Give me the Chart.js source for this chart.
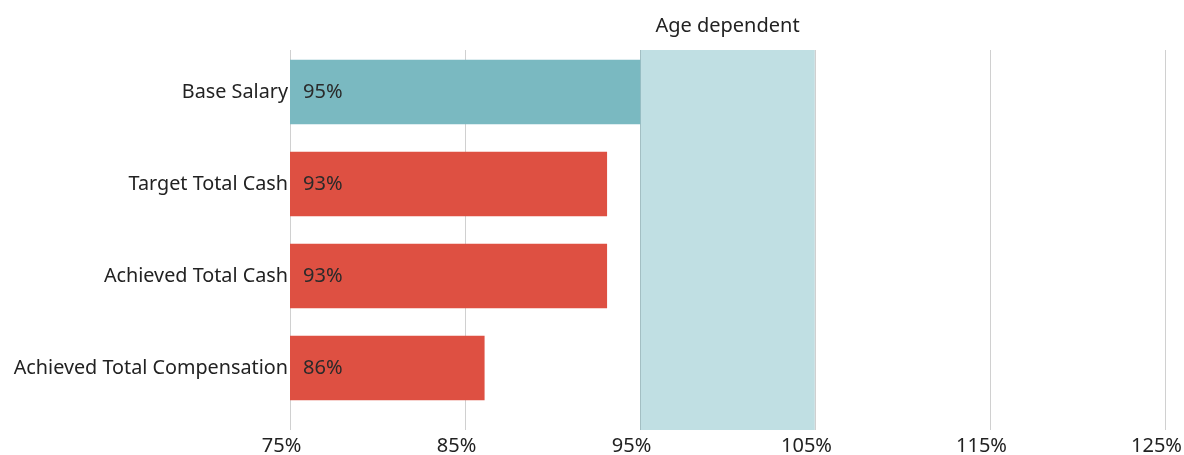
<!DOCTYPE html>
<html>
<head>
<meta charset="utf-8">
<script src="https://cdn.jsdelivr.net/npm/chart.js@4.4.1/dist/chart.umd.min.js"></script>
<style>
  html, body { margin: 0; padding: 0; background: #fff; }
  #wrap { width: 1184px; height: 455px; position: relative; }
</style>
</head>
<body>
<div id="wrap"><canvas id="c"></canvas></div>
<script>
const categories = ["Base Salary", "Target Total Cash", "Achieved Total Cash", "Achieved Total Compensation"];
const values = [95, 93.1, 93.1, 86.1];
const xTicks = [75, 85, 95, 105, 115, 125];
const bandRange = [95, 105];
const bandLabel = "Age dependent";

const FONT = "'Noto Sans', 'Open Sans', sans-serif";
const TEAL = "#7AB9C1";
const RED = "#DE5042";
const BAND = "#C0DFE3";

const bandPlugin = {
  id: 'band',
  beforeDatasetsDraw(chart) {
    const { ctx, chartArea, scales } = chart;
    const x0 = scales.x.getPixelForValue(bandRange[0]);
    const x1 = scales.x.getPixelForValue(bandRange[1]);
    ctx.save();
    ctx.fillStyle = BAND;
    ctx.fillRect(x0, chartArea.top, x1 - x0, chartArea.bottom - chartArea.top);
    ctx.strokeStyle = "#A3BFC3";
    ctx.lineWidth = 1;
    ctx.beginPath();
    ctx.moveTo(Math.round(x0) + 0.5, chartArea.top);
    ctx.lineTo(Math.round(x0) + 0.5, chartArea.bottom);
    ctx.stroke();
    ctx.strokeStyle = "#CFE3E6";
    ctx.beginPath();
    ctx.moveTo(Math.round(x1) - 0.5, chartArea.top);
    ctx.lineTo(Math.round(x1) - 0.5, chartArea.bottom);
    ctx.stroke();
    ctx.fillStyle = "#222";
    ctx.font = "20px " + FONT;
    ctx.textAlign = "center";
    ctx.textBaseline = "middle";
    ctx.fillText(bandLabel, (x0 + x1) / 2, chartArea.top - 24);
    ctx.restore();
  }
};

const labelPlugin = {
  id: 'valueLabels',
  afterDatasetsDraw(chart) {
    const { ctx, scales } = chart;
    const basePx = scales.x.getPixelForValue(scales.x.min);
    ctx.save();
    ctx.fillStyle = "#2a2a2a";
    ctx.font = "20px " + FONT;
    ctx.textAlign = "left";
    ctx.textBaseline = "middle";
    values.forEach((v, i) => {
      const y = scales.y.getPixelForValue(i);
      ctx.fillText(Math.round(v) + "%", basePx + 13, y);
    });
    ctx.restore();
  }
};

new Chart(document.getElementById('c'), {
  type: 'bar',
  data: {
    datasets: [{
      data: values.map((v, i) => ({ x: v, y: i })),
      backgroundColor: values.map(v => v >= bandRange[0] ? TEAL : RED),
      borderWidth: 0,
      barThickness: 64
    }]
  },
  options: {
    indexAxis: 'y',
    responsive: true,
    maintainAspectRatio: false,
    animation: false,
    layout: { padding: { top: 50, left: 0, right: 0, bottom: 0 } },
    plugins: { legend: { display: false }, tooltip: { enabled: false } },
    scales: {
      x: {
        type: 'linear',
        min: xTicks[0],
        max: xTicks[xTicks.length - 1],
        afterBuildTicks(scale) { scale.ticks = xTicks.map(v => ({ value: v })); },
        afterFit(scale) { scale.height = 25; scale.paddingRight = 19; scale.paddingLeft = 0; },
        grid: { color: "#D0D0D0", drawTicks: false, lineWidth: 1 },
        border: { display: false },
        ticks: {
          color: "#222",
          font: { family: FONT, size: 20 },
          padding: 4,
          labelOffset: -8.5,
          maxRotation: 0,
          callback: v => v + "%"
        }
      },
      y: {
        type: 'linear',
        reverse: true,
        offset: false,
        grace: 0,
        bounds: 'data',
        min: -0.4565,
        max: 3.674,
        afterBuildTicks(scale) { scale.ticks = categories.map((c, i) => ({ value: i })); },
        afterFit(scale) { scale.width = 290; },
        grid: { display: false, offset: false, drawTicks: false },
        border: { display: false },
        ticks: {
          color: "#222",
          font: { family: FONT, size: 19.8 },
          padding: 2,
          autoSkip: false,
          callback: v => categories[v]
        }
      }
    }
  },
  plugins: [bandPlugin, labelPlugin]
});
</script>
</body>
</html>
